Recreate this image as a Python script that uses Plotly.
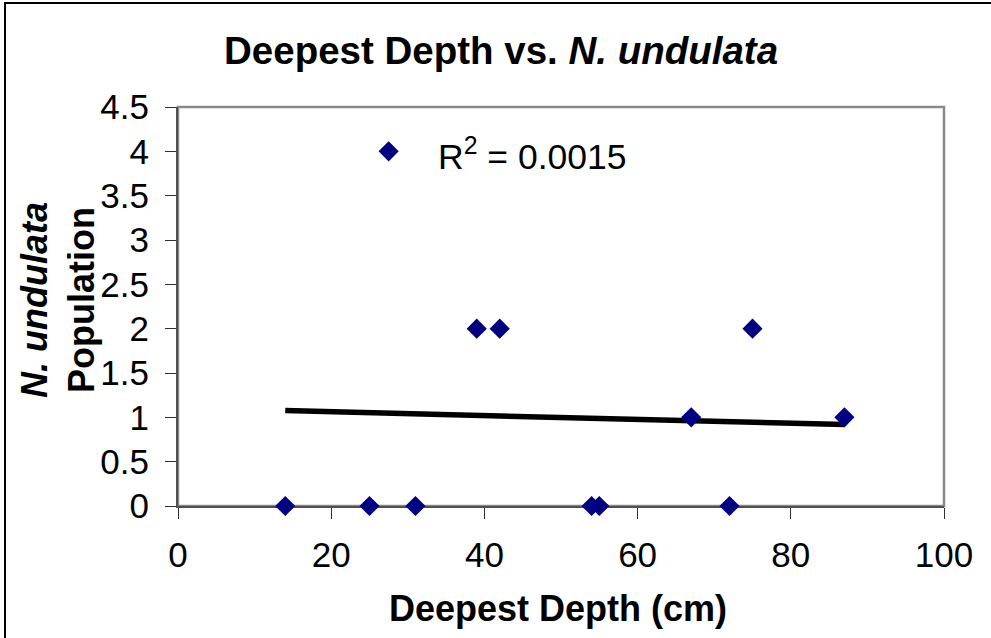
import numpy as np
import plotly.graph_objects as go

# Data
depth_cm = [14, 25, 27.5, 31, 39, 42, 54, 55, 67, 72, 75, 87]
population = [0, 0, 4, 0, 2, 2, 0, 0, 1, 0, 2, 1]
x_ticks = [0, 20, 40, 60, 80, 100]
y_ticks = [0, 0.5, 1, 1.5, 2, 2.5, 3, 3.5, 4, 4.5]
r2_label = "R<sup>2</sup> = 0.0015"

W, H = 991, 638
L, R, T, B = 178, 47, 107, 132
pw, ph = W - L - R, H - T - B


def px2x(px):
    return (px - L) / pw


def px2y(py):
    return (H - B - py) / ph


FONT = "Liberation Sans, Arial, sans-serif"

# Linear trendline (least squares) over the data range
coef = np.polyfit(depth_cm, population, 1)
tx = np.array([min(depth_cm), max(depth_cm)])
ty = np.polyval(coef, tx)

fig = go.Figure()
fig.add_trace(go.Scatter(
    x=tx, y=ty, mode="lines",
    line=dict(color="black", width=5.5),
    showlegend=False, hoverinfo="skip", cliponaxis=False,
))
fig.add_trace(go.Scatter(
    x=depth_cm, y=population, mode="markers",
    marker=dict(symbol="diamond", size=15.5, color="#000080", line=dict(width=0)),
    showlegend=False, cliponaxis=False,
))

axis_common = dict(
    showgrid=False, zeroline=False, showline=True,
    linecolor="#505050", linewidth=2,
    ticks="outside", ticklen=11, tickwidth=1, tickcolor="#303030",
    tickfont=dict(family=FONT, size=35, color="black"),
    layer="below traces",
)

fig.update_layout(
    width=W, height=H,
    margin=dict(l=L, r=R, t=T, b=B, pad=0),
    paper_bgcolor="white", plot_bgcolor="white",
    xaxis=dict(range=[0, 100], tickvals=x_ticks, ticktext=[str(v) for v in x_ticks],
               ticklabelstandoff=6, **axis_common),
    yaxis=dict(range=[0, 4.5], tickvals=y_ticks, ticktext=[f"{v:g}" for v in y_ticks],
               ticklabelstandoff=9, **axis_common),
    showlegend=False,
)

# plot-area frame (gray) and outer chart border
fig.add_shape(type="rect", xref="paper", yref="paper", x0=0, x1=1, y0=0, y1=1,
              line=dict(color="#8a8a8a", width=2.5), layer="below")
fig.add_shape(type="rect", xref="paper", yref="paper",
              x0=px2x(5), x1=px2x(1000), y0=px2y(650), y1=px2y(3),
              line=dict(color="black", width=2), layer="above")

annotations = [
    dict(text="<b>Deepest Depth vs. <i>N. undulata</i></b>",
         xref="paper", yref="paper", x=px2x(501), y=px2y(50),
         xanchor="center", yanchor="middle", showarrow=False,
         font=dict(family=FONT, size=38.5, color="black")),
    dict(text="<b>Deepest Depth (cm)</b>",
         xref="paper", yref="paper", x=px2x(558), y=px2y(608),
         xanchor="center", yanchor="middle", showarrow=False,
         font=dict(family=FONT, size=36, color="black")),
    dict(text="<b><i>N. undulata</i><br>Population</b>",
         xref="paper", yref="paper", x=px2x(58), y=px2y(300),
         xanchor="center", yanchor="middle", showarrow=False, textangle=-90,
         font=dict(family=FONT, size=36, color="black")),
    dict(text=r2_label,
         xref="paper", yref="paper", x=px2x(436), y=px2y(154),
         xanchor="left", yanchor="middle", showarrow=False,
         font=dict(family=FONT, size=35.5, color="black")),
]
fig.update_layout(annotations=annotations)

fig.write_html("out.html")
